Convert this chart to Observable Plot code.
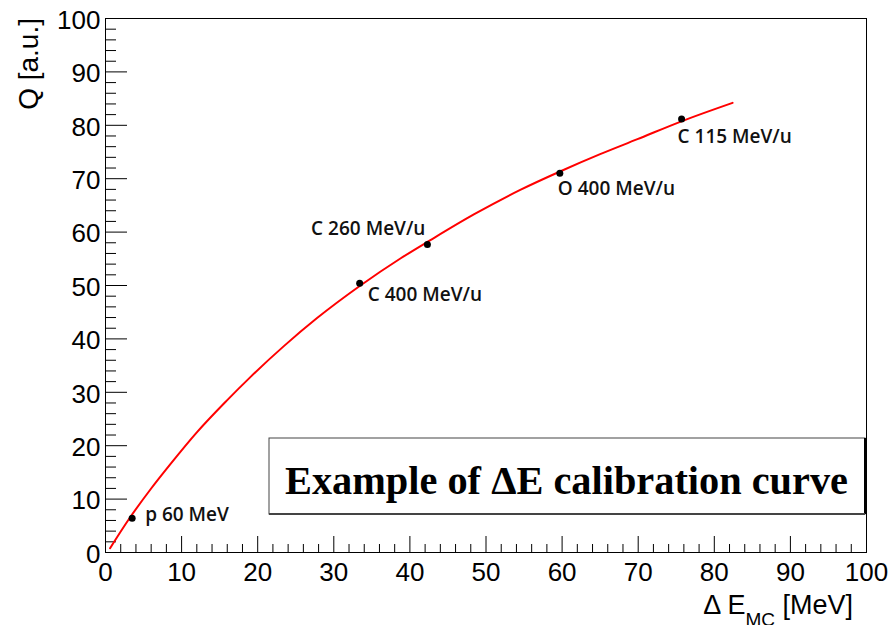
<!DOCTYPE html>
<html><head><meta charset="utf-8">
<script src="https://cdn.jsdelivr.net/npm/d3@7"></script>
<script src="https://cdn.jsdelivr.net/npm/@observablehq/plot@0.6"></script>
<style>body{margin:0;background:#fff}</style>
</head><body><div id="chart"></div>
<script>
// measured points
const pointE = [3.5, 33.4, 42.3, 59.7, 75.7];
const pointQ = [6.4, 50.4, 57.7, 71.0, 81.2];
const pointLabels = ["p 60 MeV", "C 400 MeV/u", "C 260 MeV/u", "O 400 MeV/u", "C 115 MeV/u"];
// calibration curve
const curveE = [0.6, 3.2, 5.9, 8.5, 12.0, 15.9, 19.0, 23.4, 27.8, 33.5, 38.8, 42.7, 48.4, 54.5, 59.8, 65.0, 69.9, 75.6, 82.4];
const curveQ = [0.8, 6.5, 11.8, 16.5, 22.5, 28.4, 32.8, 38.6, 43.9, 50.0, 55.1, 58.5, 63.3, 67.9, 71.4, 74.6, 77.4, 80.7, 84.2];
// axis ticks
const majorTicks = [0, 10, 20, 30, 40, 50, 60, 70, 80, 90, 100];
const minorTicks = d3.range(0, 101, 2).filter(v => v % 10 !== 0);

const points = pointE.map((e, i) => ({e, q: pointQ[i], label: pointLabels[i]}));
const curve = curveE.map((e, i) => ({e, q: curveQ[i]}));

const W = 892, H = 625;
const mL = 105, mR = 26, mT = 18, mB = 73;
const pw = W - mL - mR, ph = H - mT - mB;

const placement = [
  {dx: 13, dy: 3, anchor: "start"},
  {dx: 8, dy: 18, anchor: "start"},
  {dx: -2, dy: -9, anchor: "end"},
  {dx: -2, dy: 22, anchor: "start"},
  {dx: -4, dy: 24, anchor: "start"}
];
const labelFont = {fontFamily: "Open Sans", fontWeight: 600, fontSize: 19, fill: "#111", lineAnchor: "bottom"};

const plot = Plot.plot({
  width: W, height: H,
  marginLeft: mL, marginRight: mR, marginTop: mT, marginBottom: mB,
  style: {fontFamily: "Liberation Sans", background: "#fff"},
  x: {domain: [0, 100]},
  y: {domain: [0, 100]},
  marks: [
    Plot.tickX(minorTicks, {x: d => d, insetTop: ph - 8, stroke: "black"}),
    Plot.tickX(majorTicks, {x: d => d, insetTop: ph - 16, stroke: "black"}),
    Plot.tickY(minorTicks, {y: d => d, insetRight: pw - 11, stroke: "black"}),
    Plot.tickY(majorTicks, {y: d => d, insetRight: pw - 22, stroke: "black"}),
    Plot.axisX(majorTicks, {tickSize: 0, tickPadding: 10, fontSize: 26, label: null, fill: "black"}),
    Plot.axisY(majorTicks, {tickSize: 0, tickPadding: 5, fontSize: 26, label: null, dy: 2, fill: "black"}),
    Plot.frame({stroke: "black", strokeWidth: 1}),
    Plot.line(curve, {x: "e", y: "q", stroke: "#ff0000", strokeWidth: 2, curve: "monotone-x"}),
    Plot.dot(points, {x: "e", y: "q", r: 3.5, fill: "black"}),
    ...points.map((p, i) => Plot.text([p], {x: "e", y: "q", text: "label",
      dx: placement[i].dx, dy: placement[i].dy, textAnchor: placement[i].anchor, ...labelFont}))
  ]
});
document.getElementById("chart").appendChild(plot);

const svg = d3.select(plot);
// y title
svg.append("text")
  .attr("transform", "translate(38,18) rotate(-90)")
  .attr("text-anchor", "end")
  .attr("font-family", "Liberation Sans").attr("font-size", 28).attr("fill", "black")
  .text("Q [a.u.]");
// x title
const xt = svg.append("text")
  .attr("x", 853).attr("y", 614)
  .attr("text-anchor", "end")
  .attr("font-family", "Liberation Sans").attr("font-size", 27).attr("fill", "black");
xt.append("tspan").text("\u0394 E");
xt.append("tspan").attr("font-size", 19).attr("dy", 12).text("MC");
xt.append("tspan").attr("dy", -12).text(" [MeV]");
// annotation box
const bx = 269, by = 438, bw = 865 - 269, bh = 514 - 438;
svg.append("rect").attr("x", bx).attr("y", by).attr("width", bw).attr("height", bh)
  .attr("fill", "white").attr("stroke", "#444").attr("stroke-width", 1);
svg.append("line").attr("x1", bx + bw).attr("x2", bx + bw).attr("y1", by).attr("y2", by + bh)
  .attr("stroke", "black").attr("stroke-width", 2);
svg.append("line").attr("x1", bx).attr("x2", bx + bw).attr("y1", by + bh).attr("y2", by + bh)
  .attr("stroke", "#444").attr("stroke-width", 2);
svg.append("text")
  .attr("x", 285).attr("y", 494)
  .attr("text-anchor", "start")
  .attr("font-family", "Liberation Serif").attr("font-weight", "bold").attr("font-size", 40)
  .attr("fill", "black")
  .attr("textLength", 563).attr("lengthAdjust", "spacingAndGlyphs")
  .text("Example of \u0394E calibration curve");
</script>
</body></html>
